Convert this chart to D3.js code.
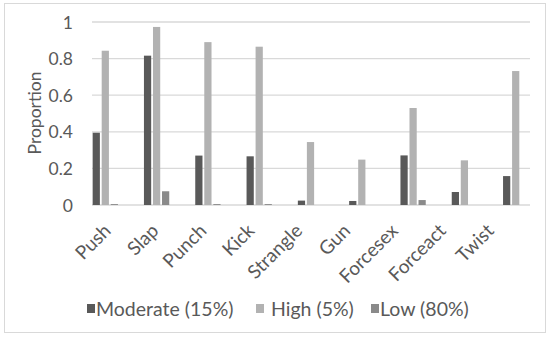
<!DOCTYPE html>
<html><head><meta charset="utf-8">
<script src="https://cdn.jsdelivr.net/npm/d3@7"></script>
<style>body{margin:0;background:#fff}svg{display:block}</style>
</head><body>
<script>
const categories = ["Push","Slap","Punch","Kick","Strangle","Gun","Forcesex","Forceact","Twist"];
const seriesNames = ["Moderate (15%)","High (5%)","Low (80%)"];
const moderate = [0.395,0.816,0.270,0.266,0.024,0.022,0.271,0.071,0.158];
const high =     [0.843,0.973,0.890,0.865,0.344,0.248,0.530,0.244,0.732];
const low =      [0.005,0.075,0.005,0.005,0.000,0.000,0.027,0.000,0.000];
const yTicks = [0,0.2,0.4,0.6,0.8,1];
const colors = ["#595959","#b2b2b2","#8a8a8a"];

const W=550,H=337;
const svg=d3.select("body").append("svg").attr("width",W).attr("height",H);
const font="Lato, sans-serif";
svg.append("rect").attr("x",4.5).attr("y",3.5).attr("width",541).attr("height",329)
  .attr("fill","#fff").attr("stroke","#d9d9d9");

const y=d3.scaleLinear().domain([0,1]).range([205,22]);
const x0=d3.scaleBand().domain(categories).range([79.65,541.35]);
const x1=d3.scaleBand().domain(seriesNames).range([-12.65,12.65]).paddingInner(0.2);
const xLab=d3.scaleBand().domain(categories).range([88,519]);
const gx0=92, gx1=530;

svg.append("g").selectAll("line").data(yTicks).join("line")
  .attr("x1",gx0).attr("x2",gx1).attr("y1",d=>y(d)).attr("y2",d=>y(d))
  .attr("stroke","#d9d9d9").attr("stroke-width",1.3);

const yAxis=d3.axisLeft(y).tickValues(yTicks).tickSize(0).tickPadding(0).tickFormat(d=>String(d));
const ya=svg.append("g").attr("transform","translate(73,0)").call(yAxis);
ya.select(".domain").remove();
ya.selectAll("text").attr("font-family",font).attr("font-size",17.5).attr("fill","#595959").attr("dy","0.35em");

svg.append("text").attr("transform","translate(41,113) rotate(-90)")
  .attr("text-anchor","middle").attr("font-family",font).attr("font-size",17.5).attr("fill","#595959").text("Proportion");

const data=[moderate,high,low];
const g=svg.append("g");
seriesNames.forEach((s,i)=>{
  g.append("g").selectAll("rect").data(categories).join("rect")
    .attr("x",(c)=>x0(c)+x0.bandwidth()/2+x1(s))
    .attr("width",x1.bandwidth())
    .attr("y",(c,j)=>y(data[i][j]))
    .attr("height",(c,j)=>y(0)-y(data[i][j]))
    .attr("fill",colors[i]);
});

const xAxis=d3.axisBottom(xLab).tickSize(0).tickPadding(0);
const xa=svg.append("g").attr("transform","translate(0,205)").call(xAxis);
xa.select(".domain").remove();
xa.selectAll("text").attr("font-family",font).attr("font-size",19).attr("fill","#595959")
  .attr("text-anchor","end").attr("dy",null).attr("y",0)
  .attr("transform","translate(0,27) rotate(-45)");

const legMark=[87,256,371];
const legText=[96,271,380];
const lg=svg.append("g");
seriesNames.forEach((s,i)=>{
  lg.append("rect").attr("x",legMark[i]).attr("y",304).attr("width",8).attr("height",9).attr("fill",colors[i]);
  lg.append("text").attr("x",legText[i]).attr("y",309).attr("dy","0.35em")
    .attr("font-family",font).attr("font-size",19.5).attr("fill","#595959").text(s);
});
</script>
</body></html>
